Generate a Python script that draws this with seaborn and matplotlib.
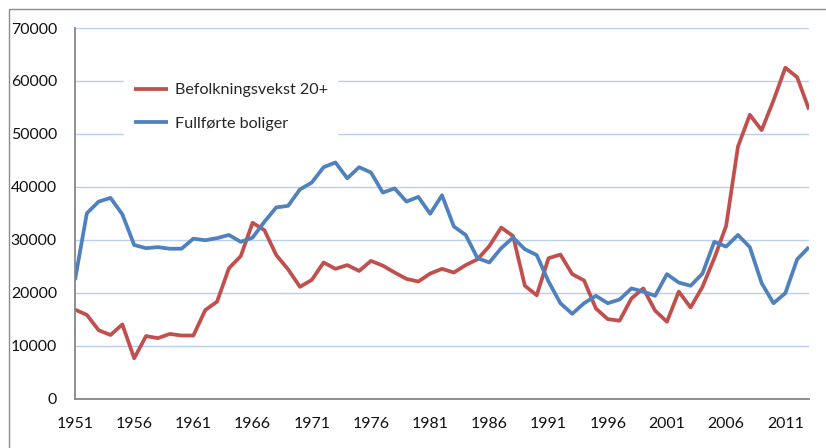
import numpy as np
import pandas as pd
import matplotlib
matplotlib.use("Agg")
import matplotlib.pyplot as plt
import seaborn as sns
from matplotlib.patches import Rectangle
from matplotlib.ticker import MultipleLocator

sns.set_style("white")
plt.rcParams['font.family'] = ['Lato', 'DejaVu Sans']

# Data lest av figuren (1951-2013)
years = list(range(1951, 2014))
befolkningsvekst = [16800, 15800, 12900, 12000, 14000, 7600, 11800, 11400, 12200, 11900,
                    11900, 16700, 18300, 24600, 26900, 33200, 31800, 27100, 24400, 21100,
                    22400, 25700, 24500, 25200, 24100, 26000, 25100, 23800, 22600, 22100,
                    23600, 24500, 23800, 25200, 26300, 28800, 32300, 30700, 21300, 19500,
                    26500, 27200, 23500, 22300, 17000, 15000, 14700, 18900, 20800, 16600,
                    14500, 20200, 17200, 21100, 26500, 32600, 47600, 53600, 50700, 56300,
                    62500, 60700, 54600]
fullforte_boliger = [22400, 35000, 37200, 37900, 34800, 29000, 28400, 28600, 28300, 28300,
                     30200, 29900, 30300, 30900, 29600, 30400, 33400, 36100, 36400, 39500,
                     40800, 43700, 44600, 41600, 43700, 42700, 38900, 39700, 37200, 38100,
                     34900, 38400, 32500, 30900, 26500, 25700, 28400, 30400, 28200, 27100,
                     22100, 18000, 16000, 18000, 19400, 18000, 18700, 20800, 20200, 19400,
                     23500, 21900, 21300, 23600, 29600, 28700, 30900, 28600, 21800, 18000,
                     19900, 26300, 28600]
series_names = ['Befolkningsvekst 20+', 'Fullførte boliger']
x_labels = [str(y) for y in range(1951, 2012, 5)]

df = pd.DataFrame({
    'År': years * 2,
    'Antall': befolkningsvekst + fullforte_boliger,
    'Serie': [series_names[0]] * len(years) + [series_names[1]] * len(years),
})

fig = plt.figure(figsize=(8.26, 4.48), dpi=100)
ax = fig.add_axes([75 / 826, 1 - 398.5 / 448, 734 / 826, 370.5 / 448])

ax.yaxis.grid(True, color='#BCD0EE', linewidth=1.0)
ax.set_axisbelow(True)

sns.lineplot(data=df, x='År', y='Antall', hue='Serie',
             palette=['#C0504D', '#4F81BD'], linewidth=2.7, ax=ax,
             solid_joinstyle='round', solid_capstyle='butt')

ax.set_xlim(1951, 2013)
ax.set_ylim(0, 70000)
ax.set_xticks(list(range(1951, 2012, 5)))
ax.set_xticklabels(x_labels)
ax.xaxis.set_minor_locator(MultipleLocator(1))
ax.set_yticks(range(0, 70001, 10000))
ax.set_xlabel('')
ax.set_ylabel('')

for side in ['top', 'right']:
    ax.spines[side].set_visible(False)
for side in ['left', 'bottom']:
    ax.spines[side].set_color('#868686')
    ax.spines[side].set_linewidth(1.3)

ax.tick_params(axis='both', which='both', direction='out', color='#868686',
               width=1.0, labelsize=11.4, labelcolor='#111111')
ax.tick_params(axis='x', which='both', length=5, pad=8)
ax.tick_params(axis='y', length=5, pad=8)
ax.tick_params(axis='x', which='minor', length=5)

handles, labels = ax.get_legend_handles_labels()
for h in handles:
    h.set_linewidth(2.7)
leg = ax.legend(handles, labels, loc='upper left', bbox_to_anchor=(0.0668, 0.878),
                borderaxespad=0, borderpad=0.6, frameon=True, fancybox=False,
                facecolor='white', edgecolor='white', framealpha=1,
                fontsize=11.6, handlelength=2.1, handletextpad=0.45, labelspacing=1.2)

# ramme rundt diagramområdet
fig.add_artist(Rectangle((9 / 826, -0.2), 2, 1.2 - 9 / 448, transform=fig.transFigure,
                         fill=False, edgecolor='#8C8C8C', linewidth=1.0))

fig.savefig('out.png', dpi=100)
